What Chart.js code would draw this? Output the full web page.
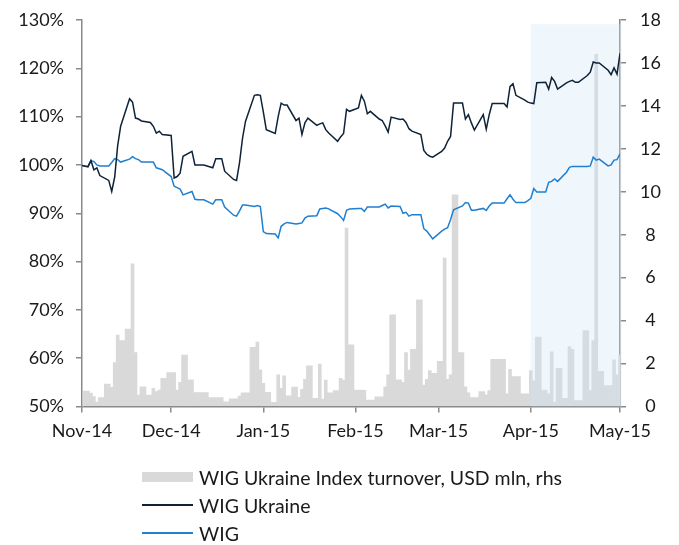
<!DOCTYPE html>
<html>
<head>
<meta charset="utf-8">
<script src="https://cdn.jsdelivr.net/npm/chart.js@4.4.1/dist/chart.umd.min.js"></script>
<style>
  html, body { margin: 0; padding: 0; background: #fff; }
  #wrap { position: relative; width: 679px; height: 545px; }
  #legend { position: absolute; left: 142px; top: 463px; font-family: Lato, sans-serif; font-size: 19.5px; color: #1a1a1a; }
  .item { display: flex; align-items: center; height: 28px; white-space: nowrap; }
  .swatch { width: 51px; margin-right: 6px; }
</style>
</head>
<body>
<div id="wrap">
  <canvas id="chart" width="679" height="545"></canvas>
  <div id="legend"></div>
</div>
<script>
// trading days, per month (day of month)
const tradingMonths = [
  ['2014-10', [31]],
  ['2014-11', [3,4,5,6,7,10,11,12,13,14,17,18,19,20,21,24,25,26,27,28]],
  ['2014-12', [1,2,3,4,5,8,9,10,11,12,15,16,17,18,19,22,23,24,25,26,29,30,31]],
  ['2015-01', [1,2,5,6,7,8,9,12,13,14,15,16,19,20,21,22,23,26,27,28,29,30]],
  ['2015-02', [2,3,4,5,6,9,10,11,12,13,16,17,18,19,20,23,24,25,26,27]],
  ['2015-03', [2,3,4,5,6,9,10,11,12,13,16,17,18,19,20,23,24,25,26,27,30,31]],
  ['2015-04', [1,2,3,6,7,8,9,10,13,14,15,16,17,20,21,22,23,24,27,28,29,30]],
  ['2015-05', [1]],
];

const seriesNames = ['WIG Ukraine Index turnover, USD mln, rhs', 'WIG Ukraine', 'WIG'];

// WIG Ukraine index turnover, USD mln (right axis)
const turnover = [
  0,
  0.72, 0.62, 0.46, 0.21, 0.41, 1.04, 0.89, 2.04, 3.33, 3.07, 3.61, 6.65, 2.51, 0.53, 0.92, 0.53, 0.85, 0.69, 0.77, 1.31,
  1.58, 1.58, 0.77, 1.12, 2.40, 1.24, 0.65, 0.65, 0.65, 0.65, 0.41, 0.41, 0.41, 0.41, 0.22, 0.36, 0.36, 0.48, 0.64, 0.64, 2.76, 3.00, 1.71,
  1.08, 0.66, 0.20, 1.47, 0.85, 1.43, 0.50, 0.90, 0.43, 0.80, 1.27, 1.89, 0.38, 1.97, 0.35, 1.23, 0.64, 0.74, 1.31, 1.23, 8.31, 2.87,
  0.77, 0.77, 0.75, 0.30, 0.30, 0.45, 0.45, 0.92, 1.47, 4.27, 1.24, 1.12, 2.51, 1.70, 2.66, 4.97, 1.00, 1.26, 1.67, 1.55,
  2.10, 6.91, 1.26, 1.47, 9.86, 2.51, 0.92, 0.64, 0.41, 0.41, 0.69, 0.54, 0.74, 2.20, 2.20, 2.20, 0.59, 1.73, 1.39, 1.39, 0.59, 0.59,
  1.67, 1.20, 3.23, 0.77, 0.59, 2.55, 0.20, 1.78, 0.38, 2.79, 2.66, 0.27, 0.27, 3.54, 0.74, 3.07, 16.4, 1.64, 0.98, 0.98, 2.17, 1.47,
  2.40,
];

// WIG Ukraine, % of 31 Oct 2014 level
const wigUkraine = [
  100.0,
  99.6, 100.9, 99.0, 99.4, 97.8, 96.8, 94.5, 97.5, 104.0, 108.0, 113.7, 113.0, 109.7, 109.5, 109.1, 108.8, 108.0, 106.6, 107.0, 106.3,
  106.1, 97.3, 97.6, 98.3, 101.8, 102.8, 100.0, 100.0, 100.0, 100.0, 99.4, 101.3, 101.3, 101.3, 98.7, 97.0, 96.8, 100.5, 105.5, 109.0, 114.4, 114.5, 114.4,
  111.0, 107.3, 106.5, 110.0, 112.8, 112.4, 112.4, 109.2, 109.7, 106.3, 108.7, 109.7, 108.2, 108.5, 108.7, 107.3, 106.6, 104.9, 105.8, 106.5, 111.5, 111.1,
  111.8, 114.4, 113.2, 110.6, 111.1, 109.5, 109.2, 108.1, 106.8, 109.9, 109.4, 109.5, 108.8, 107.5, 107.0, 106.3, 103.0, 102.2, 101.8, 101.6,
  102.8, 103.5, 104.9, 105.9, 112.8, 112.8, 109.5, 110.4, 108.7, 107.2, 110.4, 107.4, 110.4, 112.7, 112.7, 112.7, 112.0, 116.2, 116.8, 114.4, 113.4, 113.0,
  112.8, 112.7, 117.0, 117.1, 115.7, 118.1, 117.3, 115.7, 117.0, 117.3, 117.5, 117.1, 117.1, 118.5, 119.2, 121.3, 121.1, 121.1, 119.6, 118.7, 120.1, 118.8,
  123.1,
];

// WIG, % of 31 Oct 2014 level
const wig = [
  100.0,
  99.7, 100.9, 100.7, 100.0, 99.8, 99.8, 100.5, 101.3, 101.1, 100.6, 101.2, 101.7, 101.3, 101.1, 100.6, 100.6, 100.6, 99.4, 99.2, 99.0,
  97.6, 95.6, 95.3, 95.0, 93.8, 94.5, 92.9, 92.8, 92.8, 92.8, 91.9, 92.8, 92.8, 92.8, 91.3, 89.6, 89.4, 90.5, 91.7, 91.7, 91.4, 91.6, 91.4,
  86.2, 85.8, 85.7, 84.9, 87.3, 87.8, 88.1, 87.8, 87.9, 88.0, 89.0, 89.4, 89.5, 90.9, 91.0, 91.1, 90.9, 89.9, 89.3, 88.5, 90.6, 90.9,
  91.0, 91.0, 90.4, 91.3, 91.3, 91.3, 91.6, 91.9, 91.1, 91.5, 91.4, 90.0, 90.2, 89.4, 89.7, 89.7, 86.8, 86.3, 85.5, 84.7,
  86.3, 86.7, 87.0, 88.7, 90.7, 91.5, 92.2, 92.1, 90.6, 90.6, 91.0, 90.6, 91.5, 92.1, 92.1, 92.1, 93.0, 93.8, 92.9, 92.2, 92.2, 92.6,
  93.1, 95.1, 94.4, 94.4, 96.4, 96.6, 97.1, 96.6, 98.5, 99.5, 99.7, 99.7, 99.7, 99.7, 99.8, 101.6, 101.0, 101.2, 99.8, 100.0, 101.0, 101.1,
  102.3,
];

const monthTickDates = ['2014-11-01', '2014-12-01', '2015-01-01', '2015-02-01', '2015-03-01', '2015-04-01', '2015-05-01'];
const monthTickLabels = ['Nov-14', 'Dec-14', 'Jan-15', 'Feb-15', 'Mar-15', 'Apr-15', 'May-15'];

// highlighted period
const shadeFrom = '2015-04-01';
const shadeTo = '2015-05-01';
const shadeTop = 17.8; // rhs units

const axisStart = Date.UTC(2014, 10, 1);
const dayIndex = s => (Date.parse(s) - axisStart) / 86400000;

const tradeDates = tradingMonths.flatMap(([m, days]) => days.map(d => `${m}-${String(d).padStart(2, '0')}`));
const xs = tradeDates.map(dayIndex);
const tickDays = monthTickDates.map(dayIndex);

const toPoints = vals => vals.map((v, i) => ({ x: xs[i], y: v }));

const colors = {
  bar: '#d9d9d9',
  ukraine: '#0e2238',
  wig: '#1f7fd0',
  axis: '#8a8a8a',
  text: '#1a1a1a',
};

Chart.defaults.font.family = 'Lato, sans-serif';
Chart.defaults.font.size = 18;
Chart.defaults.color = colors.text;

// light blue box over the last month, drawn above the bars but below the lines
const shadePlugin = {
  id: 'periodShade',
  afterDatasetDraw(chart, args) {
    if (args.index !== 0) return;
    const { ctx, chartArea } = chart;
    const x = chart.scales.x;
    const y1 = chart.scales.y1;
    const x0 = x.getPixelForValue(dayIndex(shadeFrom));
    const x1 = x.getPixelForValue(dayIndex(shadeTo)) + 1.5;
    const top = y1.getPixelForValue(shadeTop);
    ctx.save();
    ctx.fillStyle = 'rgba(204, 226, 246, 0.32)';
    ctx.fillRect(x0, top, x1 - x0, chartArea.bottom - top);
    ctx.restore();
  },
};

const axisGrid = { drawOnChartArea: false, drawTicks: true, tickLength: 6, color: colors.axis, lineWidth: 1.5 };
const axisBorder = { display: true, color: colors.axis, width: 1.5 };

// vertical axes: fixed width, and no extra top/bottom room for the end labels
const fitVertical = width => scale => {
  scale.width = width;
  scale.paddingTop = 8;
  scale.paddingBottom = 8;
};

const chart = new Chart(document.getElementById('chart'), {
  type: 'bar',
  data: {
    datasets: [
      {
        type: 'bar',
        label: seriesNames[0],
        data: toPoints(turnover),
        yAxisID: 'y1',
        backgroundColor: colors.bar,
        borderWidth: 0,
        barThickness: 'flex',
        barPercentage: 1,
        categoryPercentage: 1,
        order: 3,
      },
      {
        type: 'line',
        label: seriesNames[1],
        data: toPoints(wigUkraine),
        yAxisID: 'y',
        borderColor: colors.ukraine,
        borderWidth: 1.5,
        pointRadius: 0,
        tension: 0,
        order: 1,
      },
      {
        type: 'line',
        label: seriesNames[2],
        data: toPoints(wig),
        yAxisID: 'y',
        borderColor: colors.wig,
        borderWidth: 1.5,
        pointRadius: 0,
        tension: 0,
        order: 2,
      },
    ],
  },
  options: {
    responsive: false,
    animation: false,
    devicePixelRatio: 1,
    layout: { padding: { top: 20, left: 0, right: 0, bottom: 0 } },
    plugins: {
      legend: { display: false },
      tooltip: { enabled: false },
    },
    scales: {
      x: {
        type: 'linear',
        min: tickDays[0],
        max: tickDays[tickDays.length - 1],
        offset: false,
        grid: { ...axisGrid, offset: false },
        border: axisBorder,
        afterBuildTicks: scale => { scale.ticks = tickDays.map(v => ({ value: v })); },
        ticks: {
          autoSkip: false,
          maxRotation: 0,
          padding: 8,
          callback: v => monthTickLabels[tickDays.indexOf(v)],
        },
        afterFit: scale => { scale.height = 545 - 406.5; },
      },
      y: {
        position: 'left',
        min: 50,
        max: 130,
        grid: axisGrid,
        border: axisBorder,
        ticks: { stepSize: 10, padding: 12, callback: v => v + '%' },
        afterFit: fitVertical(82),
      },
      y1: {
        position: 'right',
        min: 0,
        max: 18,
        grid: axisGrid,
        border: axisBorder,
        ticks: { stepSize: 2, padding: 14, crossAlign: 'center' },
        afterFit: fitVertical(59),
      },
    },
  },
  plugins: [shadePlugin],
});

// legend below the chart, stacked like the original
const legendEl = document.getElementById('legend');
chart.data.datasets.forEach((ds, i) => {
  const item = document.createElement('div');
  item.className = 'item';
  const sw = document.createElement('span');
  sw.className = 'swatch';
  if (ds.type === 'bar') {
    sw.style.height = '10px';
    sw.style.background = ds.backgroundColor;
  } else {
    sw.style.height = '1.5px';
    sw.style.background = ds.borderColor;
  }
  const label = document.createElement('span');
  label.textContent = ds.label;
  item.appendChild(sw);
  item.appendChild(label);
  legendEl.appendChild(item);
});
</script>
</body>
</html>
